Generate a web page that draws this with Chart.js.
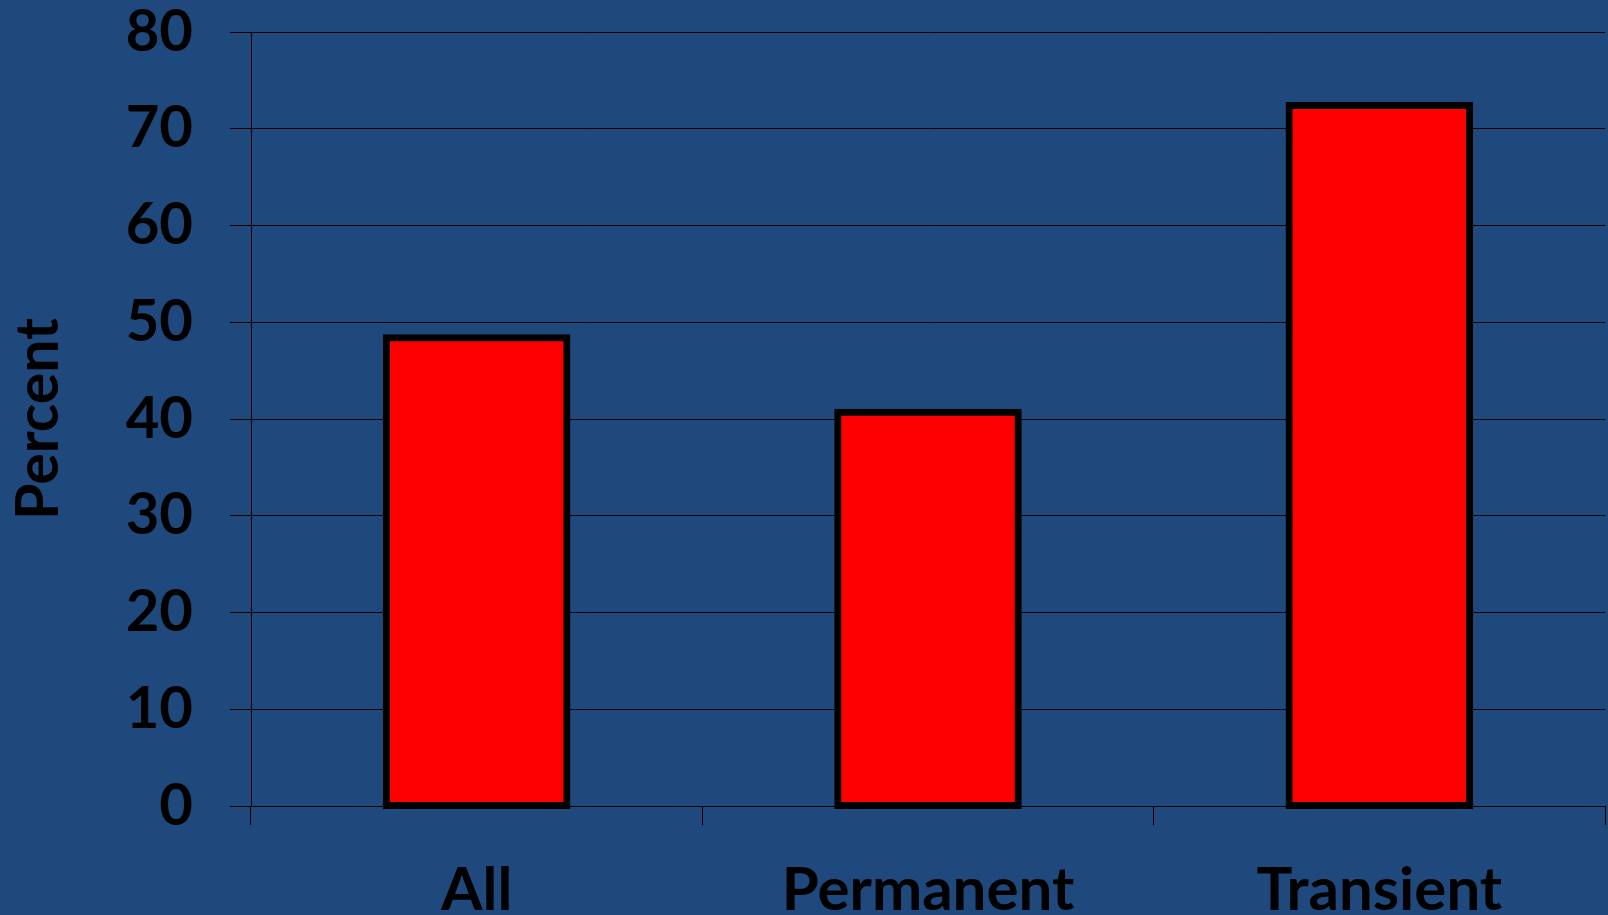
<!DOCTYPE html>
<html>
<head>
<meta charset="utf-8">
<script src="https://cdn.jsdelivr.net/npm/chart.js@4"></script>
<style>
  html, body { margin: 0; padding: 0; background: #1F497D; }
  #wrap { width: 1608px; height: 915px; position: relative; }
</style>
</head>
<body>
<div id="wrap"><canvas id="chart" width="1608" height="915"></canvas></div>
<script>
// Share of cases by group
const categories = ['All', 'Permanent', 'Transient'];
const percentValues = [48.4, 40.7, 72.4];
const yTickMin = 0;
const yTickMax = 80;
const yTickStep = 10;
const yAxisTitle = 'Percent';

const BG = '#1F497D';
const FONT = 'Lato, "Open Sans", "DejaVu Sans", sans-serif';

const bgPlugin = {
  id: 'bg',
  beforeDraw(chart) {
    const ctx = chart.ctx;
    ctx.save();
    ctx.fillStyle = BG;
    ctx.fillRect(0, 0, chart.width, chart.height);
    ctx.restore();
  }
};

new Chart(document.getElementById('chart'), {
  type: 'bar',
  data: {
    labels: categories,
    datasets: [{
      data: percentValues,
      backgroundColor: '#FF0000',
      borderColor: '#000000',
      // thick outline centred on the bar edge
      borderWidth: 7,
      inflateAmount: 3.5,
      borderSkipped: false,
      barPercentage: 0.4,
      categoryPercentage: 1.0,
      clip: false
    }]
  },
  options: {
    responsive: false,
    animation: false,
    devicePixelRatio: 1,
    layout: { padding: { top: 32, right: 3, bottom: 0, left: 0 } },
    plugins: {
      legend: { display: false },
      tooltip: { enabled: false }
    },
    scales: {
      x: {
        grid: {
          display: true,
          drawOnChartArea: false,
          drawTicks: true,
          tickLength: 19,
          color: '#000000',
          lineWidth: 1
        },
        border: { display: true, color: '#000000', width: 1 },
        ticks: {
          color: '#000000',
          padding: 30,
          font: { family: FONT, size: 60, weight: 'bold' }
        },
        afterFit(scale) { scale.height = 109; }
      },
      y: {
        min: yTickMin,
        max: yTickMax,
        ticks: {
          stepSize: yTickStep,
          color: '#000000',
          padding: 37,
          font: { family: FONT, size: 58, weight: 'bold' }
        },
        grid: {
          color: '#000000',
          lineWidth: 1,
          drawTicks: true,
          tickLength: 21
        },
        border: { display: true, color: '#000000', width: 1 },
        title: {
          display: true,
          text: yAxisTitle,
          color: '#000000',
          padding: 4,
          font: { family: FONT, size: 59, weight: 'bold' }
        },
        afterFit(scale) {
          scale.width = 251;
          scale.paddingTop = 0;
          scale.paddingBottom = 0;
        }
      }
    }
  },
  plugins: [bgPlugin]
});
</script>
</body>
</html>
